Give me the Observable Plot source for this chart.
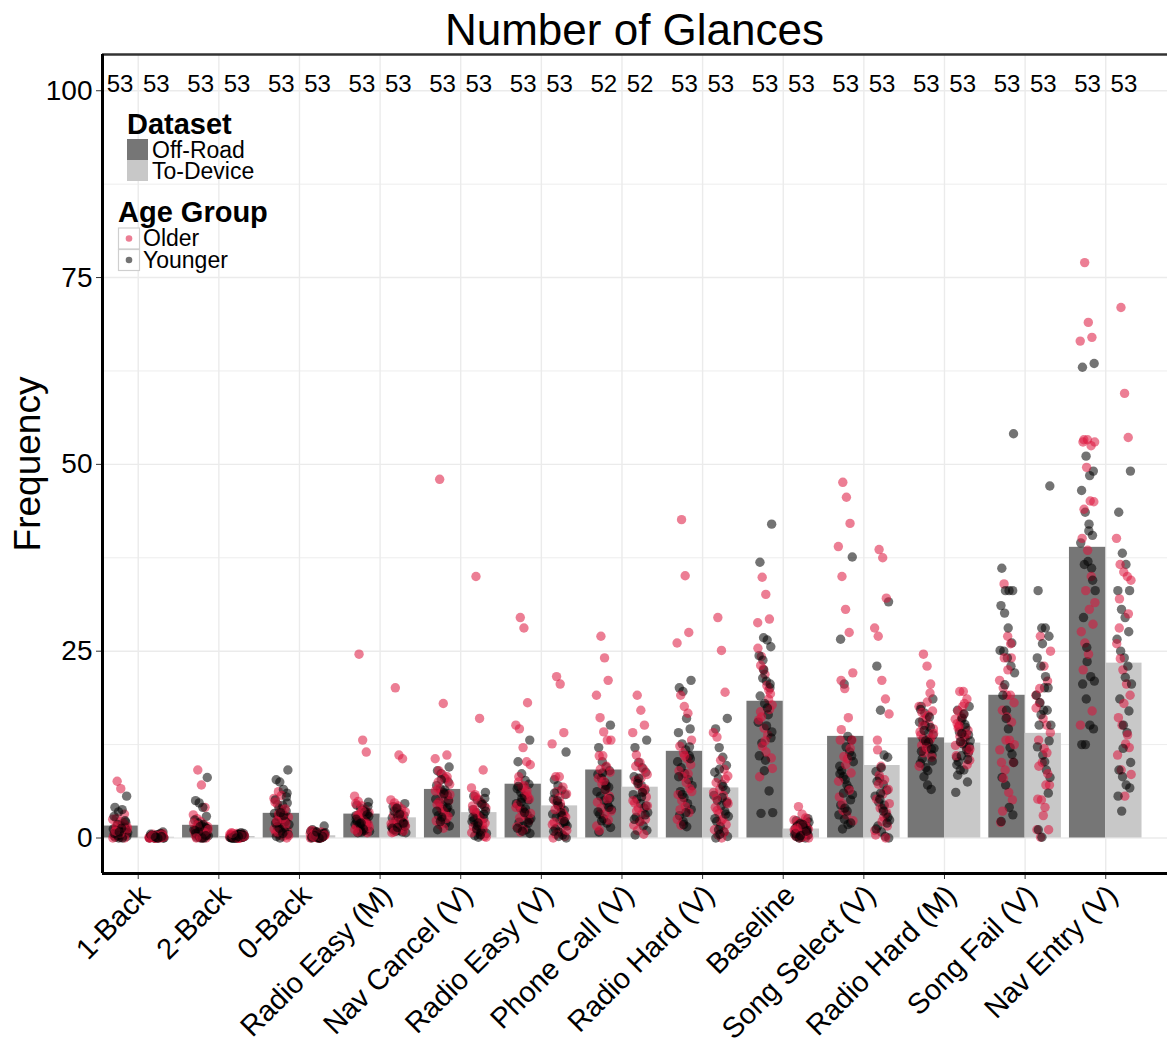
<!DOCTYPE html>
<html>
<head>
<meta charset="utf-8">
<script src="https://cdn.jsdelivr.net/npm/d3@7"></script>
<script src="https://cdn.jsdelivr.net/npm/@observablehq/plot@0.6"></script>
<style>
  html, body { margin: 0; padding: 0; background: #fff; }
  body { font-family: "Liberation Sans", Arial, Helvetica, sans-serif; }
  #wrap { position: relative; width: 1167px; height: 1046px; overflow: hidden; }
  #title { position: absolute; left: 102px; top: 0; width: 1065px; height: 50px; line-height: 60px;
           text-align: center; font-size: 44px; color: #000; }
  #chart { position: absolute; left: 0; top: 50px; }
</style>
</head>
<body>
<div id="wrap">
  <div id="title">Number of Glances</div>
  <div id="chart"></div>
</div>
<script>
// ---------------- data ----------------
const categories = ["1-Back", "2-Back", "0-Back", "Radio Easy (M)", "Nav Cancel (V)", "Radio Easy (V)",
  "Phone Call (V)", "Radio Hard (V)", "Baseline", "Song Select (V)", "Radio Hard (M)", "Song Fail (V)", "Nav Entry (V)"];

const offRoadMean  = [1.6, 1.7, 3.3, 3.2, 6.5, 7.2, 9.1, 11.6, 18.3, 13.6, 13.4, 19.1, 38.9];
const toDeviceMean = [0.1, 0.2, 0.3, 2.7, 3.4, 4.3, 6.8, 6.7, 1.2, 9.7, 12.7, 14.0, 23.4];

const offRoadN  = [53, 53, 53, 53, 53, 53, 52, 53, 53, 53, 53, 53, 53];
const toDeviceN = [53, 53, 53, 53, 53, 53, 52, 53, 53, 53, 53, 53, 53];

const olderOffRoad = [
  [7.6, 6.6, 3.2, 2.5, 2.6, 2.2, 1.9, 1.5, 1.3, 1.1, 1.0, 0.9, 0.8, 0.7, 0.5, 0.4, 0.3, 0.2, 0.1, 0, 0, 1.6, 0.6, 2.0, 1.2, 0.9],
  [9.1, 7.1, 4.1, 3.1, 2.6, 2.2, 1.8, 1.5, 1.2, 1.0, 0.8, 0.6, 0.4, 0.2, 0, 0, 0.9, 1.3, 0.5, 0.3, 2.0, 1.7, 0.1, 0.7, 1.1, 0],
  [6.2, 3.5, 2.4, 5.3, 4.5, 3.8, 3.0, 2.8, 2.1, 1.7, 1.4, 1.0, 0.7, 0.4, 0.2, 0, 4.8, 3.2, 2.6, 1.9, 1.2, 0.8, 5.7, 3.9, 0.3, 2.3],
  [24.6, 13.1, 11.5, 5.6, 4.9, 4.3, 3.8, 3.4, 3.0, 2.6, 2.2, 1.9, 1.5, 1.2, 0.9, 0.7, 4.6, 3.2, 2.4, 1.7, 1.1, 2.8, 3.6, 2.0, 1.4, 0.8],
  [48.0, 18.0, 11.1, 10.6, 9.0, 8.5, 7.9, 7.2, 6.6, 6.0, 5.5, 5.0, 4.5, 4.0, 3.4, 2.9, 2.3, 1.8, 1.3, 8.2, 6.3, 4.8, 3.7, 2.6, 5.8, 7.5],
  [29.5, 28.1, 18.1, 15.1, 14.6, 12.1, 10.2, 9.8, 7.5, 6.8, 6.0, 5.2, 4.5, 3.7, 3.0, 2.3, 1.5, 0.8, 7.0, 5.6, 4.1, 2.7, 1.1, 6.3, 3.3, 8.2],
  [27.0, 24.1, 21.1, 19.1, 16.1, 14.2, 13.1, 13.1, 11.0, 11.0, 9.6, 8.8, 8.0, 7.2, 6.4, 5.6, 4.8, 4.0, 3.2, 2.4, 1.6, 9.2, 7.6, 5.2, 3.6, 1.0],
  [42.6, 35.1, 27.5, 26.1, 19.1, 17.6, 16.7, 13.1, 12.3, 11.4, 10.6, 9.8, 9.0, 8.2, 7.4, 6.6, 5.8, 5.0, 4.2, 3.4, 2.5, 1.7, 11.0, 8.6, 6.2, 3.8],
  [34.9, 32.6, 29.3, 28.8, 24.3, 21.9, 18.6, 17.8, 16.9, 14.7, 13.8, 10.7, 8.2, 22.6, 20.4, 19.3, 15.8, 12.3, 11.5, 17.2, 25.4, 16.2, 13.0, 19.8, 9.3, 23.1],
  [47.6, 45.6, 42.1, 39.0, 35.0, 30.6, 27.5, 22.1, 21.1, 20.0, 16.1, 13.1, 13.1, 10.9, 10.6, 8.7, 5.5, 3.7, 3.1, 12.0, 7.6, 4.6, 9.8, 6.4, 2.3, 14.5],
  [24.6, 23.0, 20.6, 17.6, 15.7, 16.0, 13.1, 14.6, 12.4, 11.8, 15.2, 17.0, 13.8, 12.9, 16.4, 10.8, 14.2, 11.4, 18.2, 13.4, 9.6, 15.0, 12.1, 19.4, 14.0, 16.8],
  [34.0, 27.0, 24.1, 21.1, 20.1, 19.1, 19.1, 18.1, 17.1, 13.1, 13.1, 10.1, 10.1, 9.1, 6.1, 5.1, 2.1, 24.1, 22.5, 15.5, 11.8, 8.0, 16.2, 26.0, 12.5, 3.6],
  [77.0, 69.0, 67.0, 66.5, 53.3, 53.3, 52.5, 53.0, 53.0, 49.6, 45.1, 45.0, 40.1, 33.1, 30.6, 28.6, 27.6, 26.1, 24.6, 17.0, 15.1, 44.0, 38.5, 35.0, 31.5, 22.5]
];
const youngerOffRoad = [
  [5.6, 4.1, 3.5, 3.8, 2.1, 2.9, 1.8, 1.6, 1.4, 1.2, 1.0, 0.9, 0.8, 0.7, 0.5, 0.4, 0.3, 0.2, 0.1, 0, 0, 1.1, 0.6, 0.3, 1.3, 2.3, 0.8],
  [8.1, 5.0, 4.7, 4.1, 2.9, 2.4, 2.0, 1.6, 1.4, 1.1, 0.9, 0.7, 0.5, 0.3, 0.1, 0, 0, 1.2, 0.6, 0.2, 1.8, 0.4, 1.0, 0.8, 0, 0.3, 1.5],
  [9.1, 7.8, 7.5, 6.5, 6.0, 5.1, 4.0, 4.4, 3.6, 3.3, 2.9, 2.5, 2.2, 1.8, 1.5, 1.1, 0.9, 0.5, 0.2, 0, 3.0, 4.7, 2.0, 1.3, 0.6, 5.5, 3.4],
  [4.8, 4.4, 4.0, 3.7, 3.3, 3.0, 2.7, 2.4, 2.1, 1.8, 1.6, 1.3, 1.1, 0.9, 0.7, 0.8, 3.5, 2.9, 2.2, 1.5, 1.0, 4.2, 2.5, 1.9, 1.2, 3.1, 2.0],
  [9.5, 9.0, 8.6, 8.0, 7.5, 7.0, 6.6, 6.1, 5.7, 5.2, 4.8, 4.3, 3.9, 3.4, 3.0, 2.5, 2.0, 1.6, 1.1, 7.8, 6.4, 5.0, 3.6, 2.2, 5.9, 4.1, 2.8],
  [13.1, 10.2, 8.6, 7.7, 7.2, 6.6, 6.1, 5.6, 5.1, 4.6, 4.1, 3.6, 3.1, 2.6, 2.1, 1.6, 1.1, 0.6, 6.9, 5.3, 3.9, 2.4, 1.3, 4.8, 3.4, 2.0, 0.9],
  [15.1, 12.1, 10.2, 9.5, 9.0, 8.5, 8.0, 7.4, 6.8, 6.2, 5.6, 5.0, 4.4, 3.8, 3.2, 2.6, 2.0, 1.4, 0.8, 8.7, 7.0, 5.3, 3.5, 2.3, 6.5, 4.1],
  [21.1, 20.1, 19.6, 16.0, 14.6, 14.1, 12.6, 11.8, 11.0, 10.2, 9.4, 8.6, 7.8, 7.0, 6.2, 5.4, 4.6, 3.8, 3.0, 2.2, 1.5, 10.6, 8.2, 5.8, 3.4, 12.2, 1.8],
  [42.0, 36.9, 26.8, 26.5, 25.6, 24.4, 21.4, 21.0, 20.1, 15.5, 12.7, 10.4, 6.3, 3.4, 3.3, 18.0, 16.5, 14.2, 19.0, 22.5, 17.4, 13.4, 11.0, 23.8, 15.0, 20.6, 9.0],
  [37.6, 26.6, 20.6, 13.6, 13.1, 9.6, 8.2, 7.1, 5.1, 3.1, 1.2, 12.2, 11.5, 10.2, 9.0, 7.8, 6.6, 5.8, 4.4, 2.5, 1.8, 11.0, 8.6, 6.0, 3.6, 2.0, 4.0],
  [18.6, 17.6, 16.7, 14.0, 11.1, 10.0, 8.2, 7.1, 6.5, 15.5, 13.3, 12.6, 14.8, 12.0, 10.6, 9.4, 16.2, 13.8, 11.6, 15.1, 12.8, 10.3, 17.2, 14.4, 9.0, 11.9, 13.0],
  [54.1, 36.1, 33.1, 33.1, 33.1, 31.1, 30.1, 28.1, 26.1, 25.1, 25.0, 24.1, 23.0, 22.1, 19.1, 17.1, 12.1, 10.1, 8.1, 7.1, 4.1, 3.1, 2.2, 20.5, 14.6, 11.2, 16.0],
  [63.5, 63.0, 51.1, 48.5, 49.1, 46.5, 43.6, 41.1, 40.5, 39.5, 36.6, 37.0, 36.1, 33.1, 29.5, 23.6, 21.6, 21.0, 20.6, 18.6, 15.1, 14.6, 12.5, 12.5, 42.0, 34.5, 25.5]
];
const olderToDevice = [
  [0.2, 0, 0.4, 0.1, 0.3, 0, 0.5, 0.2, 0.1, 0, 0.3, 0.6, 0.2, 0, 0.1, 0.4, 0, 0.2, 0.3, 0.1, 0, 0.5, 0.2, 0, 0.1, 0.3],
  [0.3, 0, 0.5, 0.1, 0.2, 0.6, 0, 0.4, 0.2, 0.1, 0, 0.3, 0.7, 0.2, 0, 0.1, 0.4, 0.3, 0, 0.2, 0.5, 0.1, 0, 0.3, 0.2, 0.6],
  [0.9, 0.4, 0.1, 0.6, 0.2, 0, 0.8, 0.3, 0.5, 0.1, 0, 0.7, 0.2, 0.4, 0, 0.3, 1.0, 0.1, 0.5, 0.2, 0, 0.6, 0.3, 0.1, 0.4, 0.2],
  [20.1, 11.1, 10.6, 5.1, 4.7, 4.3, 3.9, 3.5, 3.1, 2.8, 2.4, 2.1, 1.8, 1.5, 1.2, 0.9, 0.7, 4.1, 3.3, 2.6, 1.9, 1.3, 2.2, 3.0, 1.6, 0.8],
  [35.0, 16.0, 9.1, 6.7, 5.8, 5.2, 4.6, 4.0, 3.5, 3.0, 2.5, 2.0, 1.5, 1.0, 0.5, 0.2, 4.3, 3.2, 2.2, 1.2, 0.7, 5.5, 2.8, 1.8, 0.1, 3.8],
  [21.6, 20.6, 14.1, 12.6, 8.2, 8.2, 6.8, 5.9, 5.0, 4.2, 3.5, 2.8, 2.1, 1.4, 0.7, 0.2, 0, 6.2, 4.6, 3.1, 1.8, 0.5, 5.4, 2.5, 1.0, 3.8],
  [19.1, 17.1, 15.1, 14.1, 11.1, 10.1, 9.2, 8.5, 7.7, 7.0, 6.2, 5.5, 4.7, 4.0, 3.2, 2.5, 1.7, 1.0, 8.0, 6.6, 5.0, 3.6, 2.2, 0.5, 4.3, 9.6],
  [29.5, 25.1, 19.5, 14.1, 13.5, 10.4, 9.2, 8.3, 7.4, 6.5, 5.7, 4.9, 4.1, 3.3, 2.5, 1.8, 1.1, 0.4, 0, 7.9, 6.1, 3.7, 2.2, 0.8, 4.6, 5.3],
  [4.2, 3.2, 2.7, 2.4, 2.1, 1.8, 1.5, 1.2, 1.0, 0.8, 0.6, 0.4, 0.2, 0, 1.9, 1.4, 0.9, 0.5, 0.1, 2.2, 1.1, 0.3, 1.6, 0.7, 0, 1.3],
  [38.6, 37.5, 32.1, 28.1, 27.0, 21.1, 18.6, 16.6, 13.1, 9.6, 7.8, 6.5, 5.2, 4.0, 2.8, 1.6, 0.4, 8.4, 5.9, 3.4, 1.0, 7.2, 2.2, 0, 4.6, 11.8],
  [19.6, 19.6, 18.6, 15.9, 14.9, 14.0, 12.2, 10.4, 17.0, 16.2, 13.2, 11.6, 15.3, 12.8, 18.0, 14.4, 11.0, 13.6, 16.6, 9.8, 12.4, 15.0, 17.6, 13.9, 11.9, 14.7],
  [27.0, 23.0, 21.0, 19.1, 18.1, 16.0, 15.1, 14.1, 13.1, 10.1, 7.1, 7.1, 5.2, 5.1, 4.1, 1.1, 1.1, 0.1, 12.0, 8.6, 17.4, 20.0, 3.0, 11.4, 25.0, 9.6],
  [71.0, 59.5, 53.6, 40.1, 36.6, 35.6, 35.0, 34.5, 28.1, 22.5, 20.6, 19.1, 16.1, 15.1, 12.6, 12.1, 11.1, 9.1, 5.6, 30.0, 26.0, 24.0, 18.0, 13.8, 8.5, 32.0]
];
const youngerToDevice = [
  [0.8, 0.3, 0, 0.2, 0.5, 0.1, 0, 0.4, 0.2, 0, 0.3, 0.1, 0.6, 0, 0.2, 0.4, 0.1, 0, 0.3, 0.2, 0, 0.1, 0.5, 0.3, 0, 0.2, 0.1],
  [0.6, 0.2, 0, 0.4, 0.1, 0.3, 0, 0.5, 0.2, 0.1, 0, 0.3, 0.7, 0.2, 0, 0.4, 0.1, 0.3, 0, 0.2, 0.5, 0.1, 0, 0.3, 0.2, 0.4, 0],
  [1.6, 1.1, 0.8, 0.5, 0.2, 0, 0.6, 0.3, 0.1, 0.9, 0.4, 0, 0.2, 0.7, 0.3, 0.1, 0, 0.5, 0.2, 0.4, 0, 0.6, 0.1, 0.3, 0, 0.2, 0.8],
  [4.6, 4.2, 3.8, 3.4, 3.0, 2.7, 2.4, 2.1, 1.8, 1.5, 1.2, 1.0, 0.8, 0.7, 3.6, 2.9, 2.2, 1.6, 1.1, 4.0, 2.5, 1.9, 1.3, 0.9, 3.2, 2.0, 1.4],
  [6.1, 5.6, 5.1, 4.7, 4.2, 3.8, 3.4, 3.0, 2.6, 2.2, 1.8, 1.4, 1.0, 0.6, 0.3, 0.1, 4.5, 3.6, 2.4, 1.6, 0.8, 5.3, 2.8, 1.2, 0.4, 3.2, 2.0],
  [11.5, 7.8, 7.0, 6.4, 5.8, 5.2, 4.7, 4.2, 3.7, 3.2, 2.8, 2.4, 2.0, 1.6, 1.2, 0.8, 0.4, 0, 6.0, 4.4, 3.0, 1.9, 0.9, 5.0, 3.4, 2.2, 0.2],
  [13.1, 12.1, 10.1, 9.4, 8.8, 8.2, 7.6, 7.0, 6.4, 5.8, 5.2, 4.6, 4.0, 3.4, 2.8, 2.2, 1.6, 1.0, 0.4, 8.0, 6.1, 4.3, 2.5, 7.3, 5.5, 3.1],
  [16.0, 14.6, 12.1, 10.8, 9.7, 8.8, 8.0, 7.2, 6.4, 5.7, 5.0, 4.3, 3.6, 2.9, 2.2, 1.5, 0.8, 0.2, 0, 9.2, 6.9, 4.7, 2.6, 1.1, 5.4, 3.2, 0.5],
  [2.6, 2.3, 2.0, 1.7, 1.5, 1.3, 1.1, 0.9, 0.7, 0.5, 0.3, 0.1, 0, 2.1, 1.6, 1.2, 0.8, 0.4, 0.2, 1.9, 1.4, 1.0, 0.6, 0, 1.8, 0.9, 0.3],
  [31.6, 23.0, 17.1, 11.1, 10.8, 8.9, 8.0, 7.2, 6.4, 5.6, 4.8, 4.0, 3.2, 2.4, 1.6, 0.8, 0.2, 0, 7.6, 6.0, 4.4, 2.8, 1.2, 5.2, 3.6, 2.0, 9.4],
  [17.6, 17.1, 15.7, 13.5, 11.4, 10.8, 9.1, 9.1, 7.5, 6.1, 14.2, 12.6, 11.8, 13.0, 10.2, 16.0, 14.8, 12.2, 8.4, 11.0, 15.2, 13.8, 9.8, 12.9, 16.6, 10.5, 14.0],
  [47.1, 33.1, 28.1, 28.1, 27.0, 24.1, 23.0, 20.1, 20.1, 19.1, 18.1, 17.1, 17.1, 15.1, 15.1, 11.1, 9.1, 8.1, 1.1, 0.1, 21.6, 13.0, 12.2, 16.5, 10.2, 6.0, 26.0],
  [49.1, 43.6, 38.1, 36.6, 33.1, 33.1, 30.6, 29.5, 27.6, 26.6, 25.0, 24.1, 23.0, 20.6, 18.6, 15.1, 14.1, 10.1, 9.1, 8.2, 7.1, 6.7, 5.6, 3.6, 21.5, 17.0, 12.0]
];

const yTicks = [0, 25, 50, 75, 100];
const yMinor = [12.5, 37.5, 62.5, 87.5];
const countLabelY = 100;

// ---------------- styling / layout ----------------
const FONT = '"Liberation Sans", Arial, Helvetica, sans-serif';
const colOffRoad = "#767676", colToDevice = "#c8c8c8";
const colOlder = "#dc143c", colYounger = "#000000";
const dodge = 0.225, barHalf = 0.225;
const xDomain = [-0.443, 12.766];
const yDomain = [-4.75, 104.85];

// deterministic horizontal jitter (layout only)
function spread(k) { return (((k * 0.6180339887 + 0.31) % 1) - 0.5) * 0.19; }

const bars = [];
const counts = [];
const pts = [];
categories.forEach((c, i) => {
  bars.push({i, ds: "Off-Road", x1: i - dodge - barHalf, x2: i - dodge + barHalf, v: offRoadMean[i]});
  bars.push({i, ds: "To-Device", x1: i + dodge - barHalf, x2: i + dodge + barHalf, v: toDeviceMean[i]});
  counts.push({x: i - dodge, n: String(offRoadN[i])});
  counts.push({x: i + dodge, n: String(toDeviceN[i])});
  [[olderOffRoad[i], youngerOffRoad[i], -dodge], [olderToDevice[i], youngerToDevice[i], dodge]].forEach(([o, y, off]) => {
    const n = Math.max(o.length, y.length);
    let k = 0;
    for (let j = 0; j < n; j++) {
      if (j < o.length) pts.push({x: i + off + spread(k++), v: o[j], age: "Older"});
      if (j < y.length) pts.push({x: i + off + spread(k++), v: y[j], age: "Younger"});
    }
  });
});

const svg = Plot.plot({
  width: 1167,
  height: 996,
  marginLeft: 102,
  marginRight: 0,
  marginTop: 4,
  marginBottom: 173,
  style: {fontFamily: FONT, color: "#000", background: "#fff", overflow: "visible"},
  x: {type: "linear", domain: xDomain, axis: null},
  y: {domain: yDomain, axis: null},
  marks: [
    Plot.ruleY(yMinor, {stroke: "#ededed", strokeWidth: 1}),
    Plot.ruleY(yTicks, {stroke: "#ebebeb", strokeWidth: 1.4}),
    Plot.ruleX(d3.range(categories.length), {stroke: "#ebebeb", strokeWidth: 1.4}),
    Plot.rect(bars, {x1: "x1", x2: "x2", y1: () => 0, y2: "v", fill: d => d.ds === "Off-Road" ? colOffRoad : colToDevice}),
    Plot.dot(pts, {x: "x", y: "v", r: 4.7, fill: d => d.age === "Older" ? colOlder : colYounger, fillOpacity: 0.55, stroke: null}),
    Plot.text(counts, {x: "x", y: () => countLabelY, text: "n", fontSize: 24, dy: -6, fill: "#000"}),
    Plot.axisY({ticks: yTicks, tickSize: 6, tickPadding: 4, fontSize: 28, label: null, stroke: "#333"}),
    Plot.axisX({ticks: d3.range(categories.length), tickSize: 6, tickFormat: () => "", label: null, stroke: "#333"}),
    Plot.text(categories.map((c, i) => ({i, c})), {x: "i", text: "c", frameAnchor: "bottom", rotate: -45,
      textAnchor: "end", lineAnchor: "top", fontSize: 29, dy: 9, dx: -1, fill: "#000"}),
    Plot.text(["Frequency"], {frameAnchor: "left", rotate: -90, textAnchor: "middle", lineAnchor: "middle",
      dx: -74, fontSize: 37, fill: "#000"}),
    Plot.ruleY([yDomain[1]], {stroke: "#333", strokeWidth: 2.5}),
    Plot.ruleX([xDomain[0]], {stroke: "#000", strokeWidth: 3}),
    Plot.ruleY([yDomain[0]], {stroke: "#000", strokeWidth: 3})
  ]
});
document.getElementById("chart").appendChild(svg);

// ---------------- legend (inside panel, top-left) ----------------
const lg = d3.select(svg).append("g").attr("font-family", FONT).attr("fill", "#000").attr("text-anchor", "start");
lg.append("text").attr("x", 127).attr("y", 74).attr("dy", "0.35em").attr("text-anchor", "start")
  .attr("font-size", 29).attr("font-weight", "bold").text("Dataset");
const dsItems = [["Off-Road", colOffRoad], ["To-Device", colToDevice]];
dsItems.forEach(([label, col], k) => {
  lg.append("rect").attr("x", 127).attr("y", 89 + k * 21).attr("width", 21).attr("height", 21).attr("fill", col);
  lg.append("text").attr("x", 152).attr("y", 100 + k * 21).attr("dy", "0.35em").attr("text-anchor", "start")
    .attr("font-size", 23).text(label);
});
lg.append("text").attr("x", 118).attr("y", 162).attr("dy", "0.35em").attr("text-anchor", "start")
  .attr("font-size", 29).attr("font-weight", "bold").text("Age Group");
const ageItems = [["Older", colOlder], ["Younger", colYounger]];
ageItems.forEach(([label, col], k) => {
  lg.append("rect").attr("x", 118.5).attr("y", 178 + k * 21.5).attr("width", 21).attr("height", 21)
    .attr("fill", "#fff").attr("stroke", "#cfcfcf").attr("stroke-width", 1.2);
  lg.append("circle").attr("cx", 129).attr("cy", 188.5 + k * 21.5).attr("r", 3.3).attr("fill", col).attr("fill-opacity", 0.55);
  lg.append("text").attr("x", 143).attr("y", 188 + k * 22).attr("dy", "0.35em").attr("text-anchor", "start")
    .attr("font-size", 23).text(label);
});
</script>
</body>
</html>
